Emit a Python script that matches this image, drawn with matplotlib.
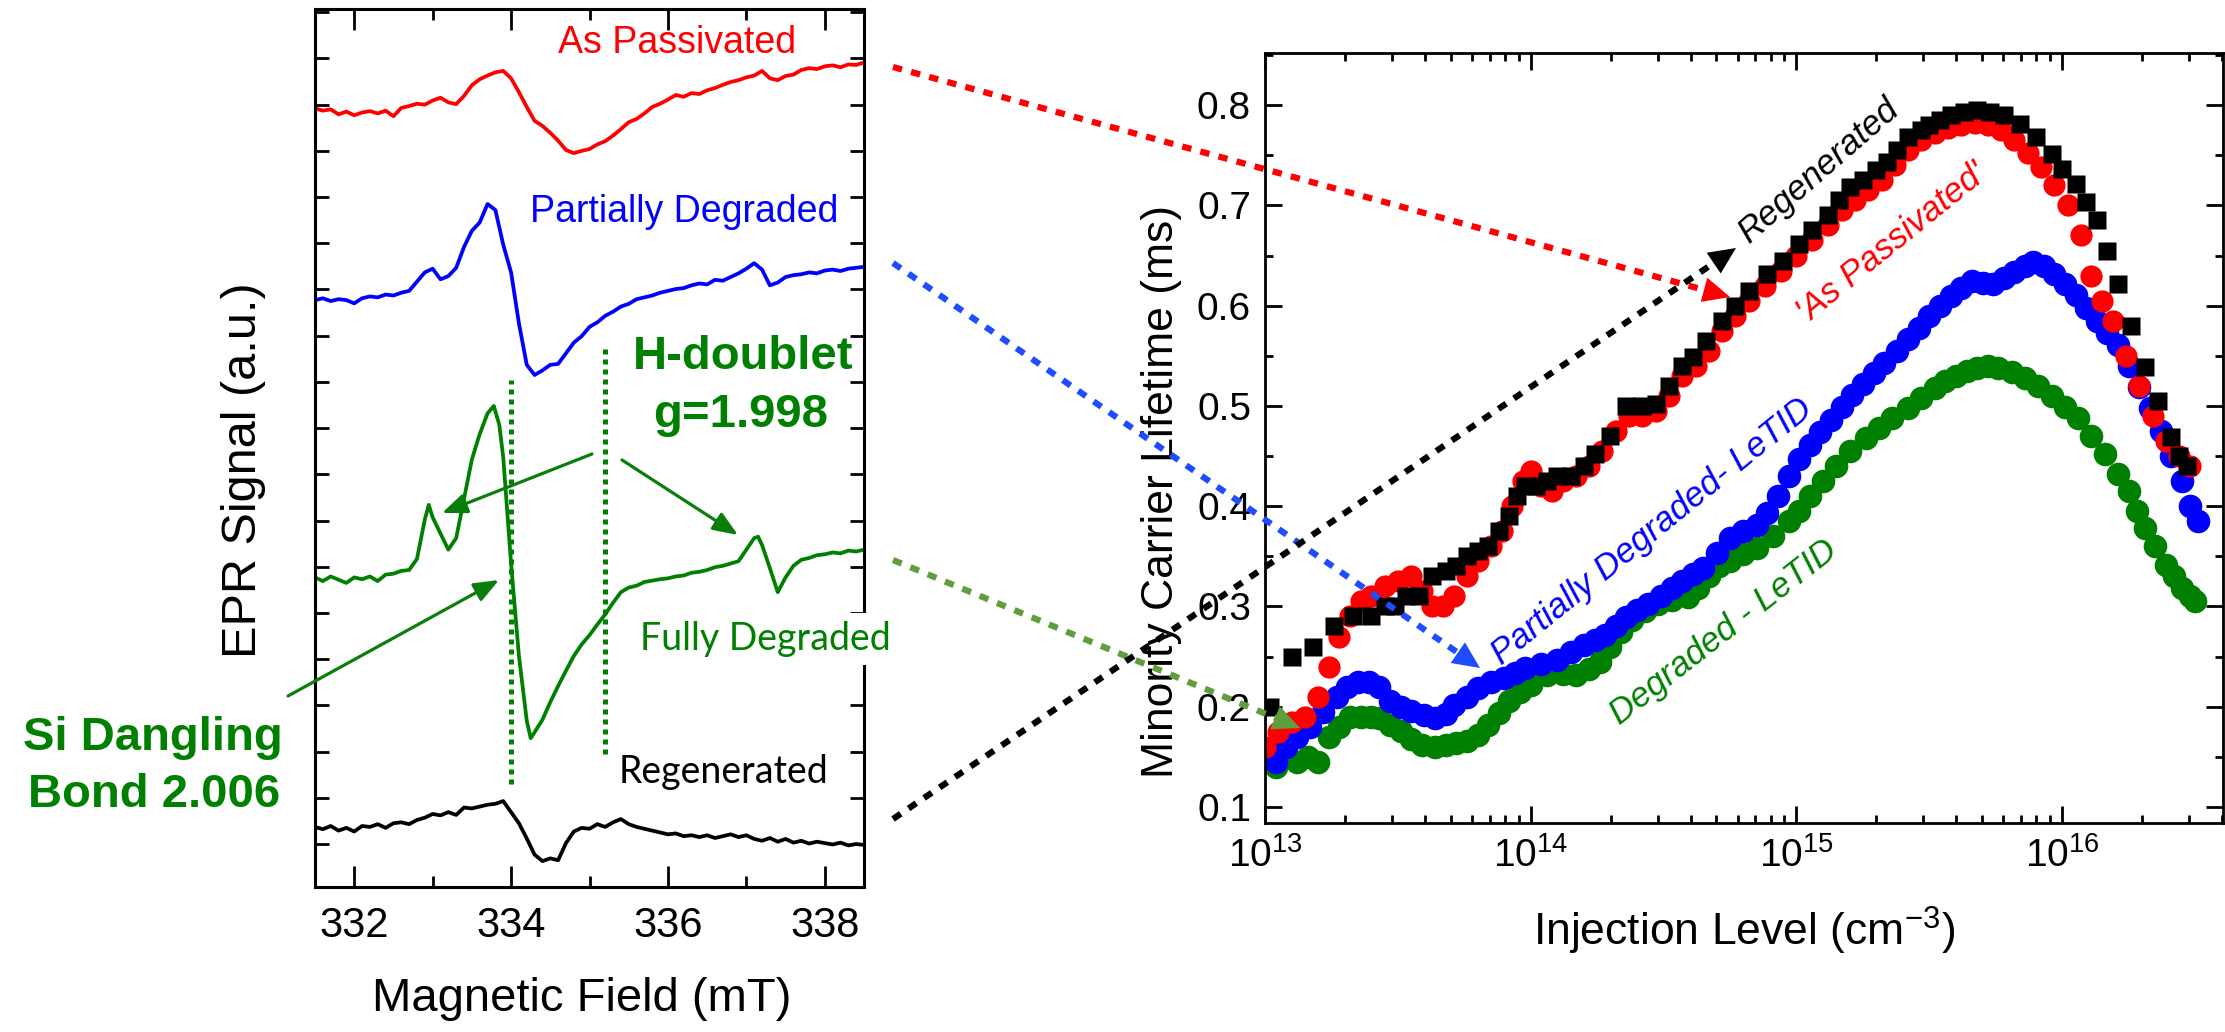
import numpy as np
import matplotlib
matplotlib.use("Agg")
import matplotlib.pyplot as plt
from matplotlib.patches import FancyArrowPatch
from matplotlib.lines import Line2D
import matplotlib.ticker as mticker

plt.rcParams['font.family'] = ['Liberation Sans', 'DejaVu Sans']
plt.rcParams['mathtext.fontset'] = 'custom'
plt.rcParams['mathtext.rm'] = 'Liberation Sans'
plt.rcParams['mathtext.it'] = 'Liberation Sans:italic'
plt.rcParams['mathtext.bf'] = 'Liberation Sans:bold'

# ---------------- data: EPR spectra (left) ----------------
field_mT = [331.5, 331.6, 331.7, 331.8, 331.9, 332.0, 332.1, 332.2, 332.3, 332.4,
            332.5, 332.6, 332.7, 332.8, 332.9, 333.0, 333.1, 333.2, 333.3, 333.4,
            333.5, 333.6, 333.7, 333.8, 333.9, 334.0, 334.1, 334.2, 334.3, 334.4,
            334.5, 334.6, 334.7, 334.8, 334.9, 335.0, 335.1, 335.2, 335.3, 335.4,
            335.5, 335.6, 335.7, 335.8, 335.9, 336.0, 336.1, 336.2, 336.3, 336.4,
            336.5, 336.6, 336.7, 336.8, 336.9, 337.0, 337.1, 337.2, 337.3, 337.4,
            337.5, 337.6, 337.7, 337.8, 337.9, 338.0, 338.1, 338.2, 338.3, 338.4, 338.5]

epr_as_passivated = [16.85, 16.80, 16.83, 16.72, 16.78, 16.70, 16.76, 16.79, 16.74, 16.80,
                     16.68, 16.86, 16.90, 16.95, 16.93, 17.02, 17.08, 16.98, 16.94, 17.12,
                     17.35, 17.48, 17.56, 17.63, 17.66, 17.50, 17.20, 16.88, 16.58, 16.47,
                     16.32, 16.15, 15.95, 15.88, 15.93, 15.97, 16.07, 16.14, 16.26, 16.40,
                     16.55, 16.62, 16.74, 16.88, 16.95, 17.04, 17.14, 17.10, 17.18, 17.16,
                     17.24, 17.29, 17.36, 17.42, 17.46, 17.52, 17.56, 17.66, 17.50, 17.46,
                     17.55, 17.58, 17.68, 17.72, 17.70, 17.76, 17.78, 17.74, 17.80, 17.79, 17.84]

epr_partially_degraded = [12.70, 12.74, 12.68, 12.72, 12.70, 12.63, 12.74, 12.78, 12.76, 12.82,
                          12.80, 12.86, 12.90, 13.10, 13.30, 13.38, 13.15, 13.22, 13.40, 13.85,
                          14.20, 14.38, 14.78, 14.65, 13.90, 13.30, 12.20, 11.30, 11.08, 11.18,
                          11.30, 11.32, 11.55, 11.78, 11.92, 12.12, 12.22, 12.36, 12.45, 12.56,
                          12.62, 12.72, 12.76, 12.80, 12.86, 12.90, 12.94, 12.96, 13.02, 13.06,
                          13.04, 13.14, 13.12, 13.20, 13.28, 13.38, 13.50, 13.36, 13.02, 13.08,
                          13.20, 13.24, 13.26, 13.30, 13.28, 13.34, 13.36, 13.33, 13.38, 13.40, 13.42]

field_fully_mT = [331.5, 331.6, 331.7, 331.8, 331.9, 332.0, 332.1, 332.2, 332.3, 332.4,
                  332.5, 332.6, 332.7, 332.8, 332.9, 332.95, 333.0, 333.1, 333.2, 333.3,
                  333.4, 333.5, 333.6, 333.7, 333.78, 333.85, 333.9, 334.0, 334.1, 334.2,
                  334.25, 334.3, 334.4, 334.5, 334.6, 334.7, 334.8, 334.9, 335.0, 335.1,
                  335.2, 335.3, 335.4, 335.5, 335.6, 335.7, 335.8, 335.9, 336.0, 336.1,
                  336.2, 336.3, 336.4, 336.5, 336.6, 336.7, 336.8, 336.9, 337.0, 337.1,
                  337.15, 337.2, 337.3, 337.4, 337.5, 337.6, 337.7, 337.8, 337.9, 338.0,
                  338.1, 338.2, 338.3, 338.4, 338.5]
epr_fully_degraded = [6.70, 6.62, 6.72, 6.65, 6.58, 6.70, 6.66, 6.72, 6.62, 6.76,
                      6.78, 6.84, 6.86, 7.10, 7.95, 8.27, 8.00, 7.65, 7.30, 7.55,
                      8.40, 9.25, 9.80, 10.25, 10.41, 10.00, 9.30, 7.00, 5.00, 3.60,
                      3.22, 3.35, 3.62, 4.00, 4.35, 4.68, 5.00, 5.25, 5.45, 5.68,
                      5.90, 6.15, 6.38, 6.48, 6.52, 6.60, 6.63, 6.66, 6.68, 6.72,
                      6.74, 6.80, 6.82, 6.86, 6.92, 6.95, 7.00, 7.05, 7.30, 7.55,
                      7.58, 7.40, 6.90, 6.38, 6.70, 6.95, 7.08, 7.12, 7.18, 7.20,
                      7.24, 7.22, 7.28, 7.26, 7.30]

epr_regenerated = [1.30, 1.25, 1.32, 1.22, 1.28, 1.20, 1.32, 1.30, 1.36, 1.28,
                   1.38, 1.40, 1.36, 1.45, 1.50, 1.58, 1.55, 1.62, 1.56, 1.72,
                   1.70, 1.74, 1.78, 1.80, 1.86, 1.62, 1.38, 1.05, 0.70, 0.56,
                   0.62, 0.58, 0.95, 1.20, 1.28, 1.26, 1.36, 1.30, 1.40, 1.47,
                   1.36, 1.30, 1.26, 1.22, 1.18, 1.14, 1.16, 1.10, 1.12, 1.08,
                   1.12, 1.06, 1.10, 1.14, 1.08, 1.12, 1.04, 1.00, 1.06, 0.98,
                   1.04, 0.96, 1.00, 0.94, 0.98, 0.95, 0.92, 0.96, 0.90, 0.93, 0.91]

dangling_bond_field = 334.0
h_doublet_field = 335.2
epr_xticks = [332, 334, 336, 338]

# ---------------- data: lifetime curves (right) ----------------
log_inj_regen = [13.02, 13.10, 13.18, 13.26, 13.33, 13.40, 13.45, 13.49, 13.53, 13.58,
                 13.63, 13.68, 13.72, 13.76, 13.80, 13.84, 13.88, 13.92, 13.95, 13.98,
                 14.02, 14.06, 14.10, 14.15, 14.20, 14.24, 14.30, 14.36, 14.42, 14.47,
                 14.52, 14.57, 14.61, 14.66, 14.72, 14.77, 14.82, 14.89, 14.95, 15.01,
                 15.06, 15.12, 15.16, 15.20, 15.25, 15.30, 15.34, 15.38, 15.42, 15.47,
                 15.50, 15.54, 15.58, 15.63, 15.68, 15.73, 15.78, 15.84, 15.90, 15.96,
                 16.00, 16.05, 16.09, 16.13, 16.17, 16.21, 16.26, 16.31, 16.36, 16.41,
                 16.44, 16.47]
tau_regen = [0.20, 0.25, 0.26, 0.28, 0.29, 0.29, 0.30, 0.30, 0.31, 0.31,
             0.33, 0.335, 0.34, 0.35, 0.355, 0.36, 0.375, 0.39, 0.41, 0.42,
             0.42, 0.425, 0.43, 0.43, 0.44, 0.452, 0.47, 0.50, 0.50, 0.502,
             0.52, 0.54, 0.549, 0.565, 0.585, 0.60, 0.615, 0.632, 0.645, 0.661,
             0.675, 0.69, 0.705, 0.718, 0.725, 0.735, 0.743, 0.755, 0.768, 0.775,
             0.78, 0.785, 0.79, 0.793, 0.795, 0.793, 0.79, 0.781, 0.768, 0.751,
             0.736, 0.721, 0.703, 0.685, 0.655, 0.622, 0.58, 0.539, 0.505, 0.469,
             0.45, 0.44]

log_inj_pass = [13.00, 13.05, 13.10, 13.15, 13.20, 13.24, 13.28, 13.32, 13.36, 13.40,
                13.45, 13.50, 13.55, 13.59, 13.63, 13.67, 13.71, 13.76, 13.80, 13.85,
                13.89, 13.93, 13.97, 14.00, 14.04, 14.08, 14.12, 14.17, 14.22, 14.27,
                14.32, 14.37, 14.42, 14.47, 14.52, 14.57, 14.62, 14.67, 14.72, 14.77,
                14.82, 14.88, 14.94, 15.00, 15.06, 15.12, 15.17, 15.22, 15.27, 15.32,
                15.37, 15.42, 15.47, 15.52, 15.57, 15.62, 15.67, 15.72, 15.77, 15.82,
                15.87, 15.92, 15.97, 16.02, 16.07, 16.11, 16.15, 16.19, 16.24, 16.29,
                16.34, 16.39, 16.44, 16.48]
tau_pass = [0.16, 0.175, 0.185, 0.19, 0.21, 0.24, 0.27, 0.29, 0.305, 0.31,
            0.32, 0.325, 0.33, 0.315, 0.30, 0.30, 0.31, 0.33, 0.345, 0.36,
            0.375, 0.40, 0.425, 0.435, 0.42, 0.415, 0.425, 0.43, 0.44, 0.455,
            0.475, 0.49, 0.49, 0.495, 0.51, 0.53, 0.54, 0.555, 0.575, 0.59,
            0.605, 0.62, 0.635, 0.65, 0.665, 0.68, 0.695, 0.705, 0.715, 0.725,
            0.74, 0.755, 0.765, 0.772, 0.777, 0.78, 0.782, 0.78, 0.775, 0.765,
            0.752, 0.738, 0.72, 0.70, 0.67, 0.63, 0.605, 0.585, 0.55, 0.52,
            0.49, 0.465, 0.45, 0.44]

log_inj_partial = [13.00, 13.04, 13.08, 13.12, 13.17, 13.22, 13.27, 13.31, 13.35, 13.39,
                   13.43, 13.47, 13.51, 13.55, 13.60, 13.64, 13.68, 13.71, 13.76, 13.80,
                   13.85, 13.90, 13.94, 13.98, 14.04, 14.10, 14.15, 14.20, 14.24, 14.28,
                   14.32, 14.36, 14.40, 14.44, 14.49, 14.53, 14.57, 14.61, 14.65, 14.70,
                   14.75, 14.80, 14.85, 14.89, 14.93, 14.97, 15.01, 15.05, 15.09, 15.13,
                   15.17, 15.21, 15.25, 15.29, 15.33, 15.38, 15.42, 15.46, 15.50, 15.54,
                   15.58, 15.62, 15.66, 15.70, 15.74, 15.78, 15.82, 15.86, 15.89, 15.93,
                   15.97, 16.01, 16.05, 16.09, 16.13, 16.17, 16.21, 16.25, 16.29, 16.33,
                   16.37, 16.41, 16.45, 16.48, 16.51]
tau_partial = [0.15, 0.145, 0.16, 0.17, 0.18, 0.195, 0.21, 0.22, 0.225, 0.225,
               0.22, 0.206, 0.20, 0.196, 0.192, 0.189, 0.193, 0.202, 0.21, 0.219,
               0.225, 0.229, 0.234, 0.239, 0.243, 0.247, 0.255, 0.262, 0.267, 0.272,
               0.28, 0.289, 0.296, 0.302, 0.31, 0.318, 0.325, 0.332, 0.338, 0.353,
               0.368, 0.375, 0.381, 0.393, 0.41, 0.43, 0.447, 0.461, 0.474, 0.486,
               0.499, 0.511, 0.522, 0.533, 0.543, 0.555, 0.567, 0.578, 0.59, 0.60,
               0.61, 0.618, 0.625, 0.623, 0.622, 0.628, 0.634, 0.64, 0.644, 0.64,
               0.632, 0.622, 0.611, 0.598, 0.585, 0.573, 0.561, 0.54, 0.519, 0.498,
               0.475, 0.45, 0.425, 0.40, 0.385]

log_inj_degr = [13.00, 13.04, 13.08, 13.12, 13.16, 13.20, 13.24, 13.28, 13.32, 13.36,
                13.40, 13.43, 13.47, 13.51, 13.55, 13.59, 13.64, 13.68, 13.72, 13.76,
                13.80, 13.84, 13.88, 13.92, 13.96, 14.00, 14.06, 14.12, 14.17, 14.22,
                14.26, 14.30, 14.34, 14.38, 14.43, 14.48, 14.53, 14.59, 14.63, 14.67,
                14.71, 14.75, 14.80, 14.85, 14.91, 14.97, 15.01, 15.05, 15.10, 15.15,
                15.20, 15.26, 15.31, 15.36, 15.42, 15.47, 15.52, 15.56, 15.60, 15.64,
                15.68, 15.72, 15.76, 15.81, 15.86, 15.91, 15.96, 16.01, 16.06, 16.11,
                16.16, 16.21, 16.25, 16.28, 16.31, 16.35, 16.39, 16.42, 16.45, 16.48, 16.50]
tau_degr = [0.15, 0.14, 0.15, 0.145, 0.15, 0.145, 0.17, 0.18, 0.19, 0.19,
            0.19, 0.189, 0.182, 0.176, 0.168, 0.162, 0.16, 0.162, 0.164, 0.166,
            0.172, 0.182, 0.194, 0.206, 0.215, 0.222, 0.232, 0.233, 0.232, 0.238,
            0.245, 0.26, 0.275, 0.286, 0.295, 0.302, 0.306, 0.309, 0.318, 0.33,
            0.34, 0.345, 0.352, 0.358, 0.37, 0.385, 0.395, 0.41, 0.425, 0.44,
            0.455, 0.468, 0.478, 0.488, 0.498, 0.508, 0.518, 0.525, 0.53, 0.535,
            0.538, 0.54, 0.538, 0.534, 0.528, 0.52, 0.51, 0.499, 0.488, 0.47,
            0.452, 0.432, 0.415, 0.395, 0.378, 0.36, 0.341, 0.33, 0.318, 0.31, 0.305]

# ---------------- figure ----------------
W, H = 2225, 1032
fig = plt.figure(figsize=(W / 100, H / 100), dpi=100)
fig.patch.set_facecolor('white')

RED = '#ff0000'
BLUE = '#0000ff'
GREEN = '#008000'
DGREEN = '#0b7d0b'


def fx(px):
    return px / W


def fy(py):
    return 1 - py / H


# ======== left panel: EPR ========
axL = fig.add_axes([fx(315), fy(887), 549 / W, 878 / H])
axL.plot(field_mT, epr_as_passivated, color=RED, lw=2.7)
axL.plot(field_mT, epr_partially_degraded, color=BLUE, lw=2.7)
axL.plot(field_fully_mT, epr_fully_degraded, color=GREEN, lw=2.7)
axL.plot(field_mT, epr_regenerated, color='black', lw=2.7)

axL.plot([dangling_bond_field, dangling_bond_field], [2.23, 10.97], color=GREEN,
         lw=3.6, linestyle=(0, (1, 1)), dash_capstyle='butt')
axL.plot([h_doublet_field, h_doublet_field], [2.88, 11.65], color=GREEN,
         lw=3.6, linestyle=(0, (1, 1)), dash_capstyle='butt')

axL.set_xlim(331.5, 338.5)
axL.set_ylim(0, 19)
axL.set_xticks(epr_xticks)
axL.set_xticks([333, 335, 337], minor=True)
axL.set_yticks(np.arange(0.93, 19, 1.0))
axL.yaxis.set_major_formatter(mticker.NullFormatter())
for s in axL.spines.values():
    s.set_linewidth(2.2)
axL.tick_params(which='both', direction='in', top=True, right=True, width=2.0)
axL.tick_params(axis='y', which='major', length=10)
axL.tick_params(axis='x', which='major', length=15, labelsize=30, pad=14)
axL.tick_params(axis='x', which='minor', length=8)
axL.set_xlabel('Magnetic Field (mT)', fontsize=34)
axL.xaxis.set_label_coords(0.486, -0.128)
axL.xaxis.label.set_va('center')
axL.set_ylabel('EPR Signal (a.u.)', fontsize=35)
axL.yaxis.set_label_coords(-0.13, 0.475)
axL.yaxis.label.set_va('center')


def ltext(px, py, s, **kw):
    fig.text(fx(px), fy(py), s, ha='center', va='center', **kw)


ltext(677, 43, 'As Passivated', color=RED, fontsize=27)
ltext(684, 212, 'Partially Degraded', color=BLUE, fontsize=27)
ltext(743, 357, 'H-doublet', color=GREEN, fontsize=34, fontweight='bold')
ltext(741, 415, 'g=1.998', color=GREEN, fontsize=34, fontweight='bold')
fig.text(fx(765), fy(639), 'Fully Degraded', color=GREEN, fontsize=27,
         family=['Lato', 'DejaVu Sans'], ha='center', va='center', zorder=10,
         bbox=dict(facecolor='white', edgecolor='none', pad=6))
ltext(723, 772, 'Regenerated', color='black', fontsize=27, family=['Lato', 'DejaVu Sans'])
ltext(153, 738, 'Si Dangling', color=GREEN, fontsize=34, fontweight='bold')
ltext(154, 795, 'Bond 2.006', color=GREEN, fontsize=34, fontweight='bold')


def solid_arrow(p0, p1, color):
    a = FancyArrowPatch((fx(p0[0]), fy(p0[1])), (fx(p1[0]), fy(p1[1])),
                        transform=fig.transFigure, arrowstyle='-|>,head_length=0.75,head_width=0.3',
                        mutation_scale=20, color=color, lw=2.3, shrinkA=0, shrinkB=0, zorder=8)
    fig.add_artist(a)


solid_arrow((288, 696), (499, 580), DGREEN)
solid_arrow((592, 454), (442, 513), DGREEN)
solid_arrow((622, 460), (738, 535), DGREEN)

# ======== right panel: lifetime ========
axR = fig.add_axes([fx(1265), fy(823), 958 / W, 770 / H])
axR.set_xscale('log')
axR.plot(10 ** np.array(log_inj_degr), tau_degr, 'o', color=GREEN, ms=17, mec='none')
axR.plot(10 ** np.array(log_inj_partial), tau_partial, 'o', color=BLUE, ms=17, mec='none')
axR.plot(10 ** np.array(log_inj_pass), tau_pass, 'o', color=RED, ms=16, mec='none')
axR.plot(10 ** np.array(log_inj_regen), tau_regen, 's', color='black', ms=13, mec='none')

axR.set_xlim(1e13, 10 ** 16.605)
axR.set_ylim(0.084, 0.852)
axR.yaxis.set_major_locator(mticker.MultipleLocator(0.1))
axR.yaxis.set_minor_locator(mticker.MultipleLocator(0.05))
axR.yaxis.set_major_formatter(mticker.FormatStrFormatter('%.1f'))
axR.xaxis.set_major_locator(mticker.LogLocator(base=10, numticks=10))
axR.xaxis.set_minor_locator(mticker.LogLocator(base=10, subs=np.arange(2, 10), numticks=100))
axR.xaxis.set_minor_formatter(mticker.NullFormatter())
for s in axR.spines.values():
    s.set_linewidth(2.0)
axR.tick_params(which='both', direction='in', top=True, right=True, width=2.0, labelsize=28)
axR.tick_params(which='major', length=12, pad=10)
axR.tick_params(which='minor', length=6)
axR.set_xlabel('Injection Level (cm$^{-3}$)', fontsize=32)
axR.xaxis.set_label_coords(0.5, -0.14)
axR.xaxis.label.set_va('center')
axR.set_ylabel('Minority Carrier Lifetime (ms)', fontsize=32)
axR.yaxis.set_label_coords(-0.108, 0.43)
axR.yaxis.label.set_va('center')

rkw = dict(ha='center', va='center', rotation_mode='anchor', fontsize=25, style='italic')
fig.text(fx(1819), fy(170), 'Regenerated', color='black', rotation=41, **rkw)
fig.text(fx(1892), fy(243), "'As Passivated'", color=RED, rotation=39, **rkw)
fig.text(fx(1652), fy(532), 'Partially Degraded- LeTID', color=BLUE, rotation=39, **rkw)
fig.text(fx(1724), fy(632), 'Degraded - LeTID', color=GREEN, rotation=38, **rkw)


# ======== connecting dotted arrows ========
def dotted_arrow(p0, p1, color):
    x0, y0 = p0
    x1, y1 = p1
    L = np.hypot(x1 - x0, y1 - y0)
    ux, uy = (x1 - x0) / L, (y1 - y0) / L
    hl = 27
    xe, ye = x1 - ux * hl * 0.7, y1 - uy * hl * 0.7
    fig.add_artist(Line2D([fx(x0), fx(xe)], [fy(y0), fy(ye)], transform=fig.transFigure,
                          color=color, lw=4.5, dashes=(1.5, 1.5), dash_capstyle='butt', zorder=9))
    fig.add_artist(FancyArrowPatch((fx(x1 - ux * hl), fy(y1 - uy * hl)), (fx(x1), fy(y1)),
                                   transform=fig.transFigure,
                                   arrowstyle='-|>,head_length=0.97,head_width=0.45',
                                   mutation_scale=20, color=color, lw=0, shrinkA=0, shrinkB=0, zorder=9))


dotted_arrow((893, 67), (1730, 297), RED)
dotted_arrow((893, 263), (1480, 668), '#1f4cff')
dotted_arrow((893, 560), (1300, 728), '#5f9e3c')
dotted_arrow((893, 819), (1736, 248), 'black')

fig.savefig('out.png', dpi=100, facecolor='white')
